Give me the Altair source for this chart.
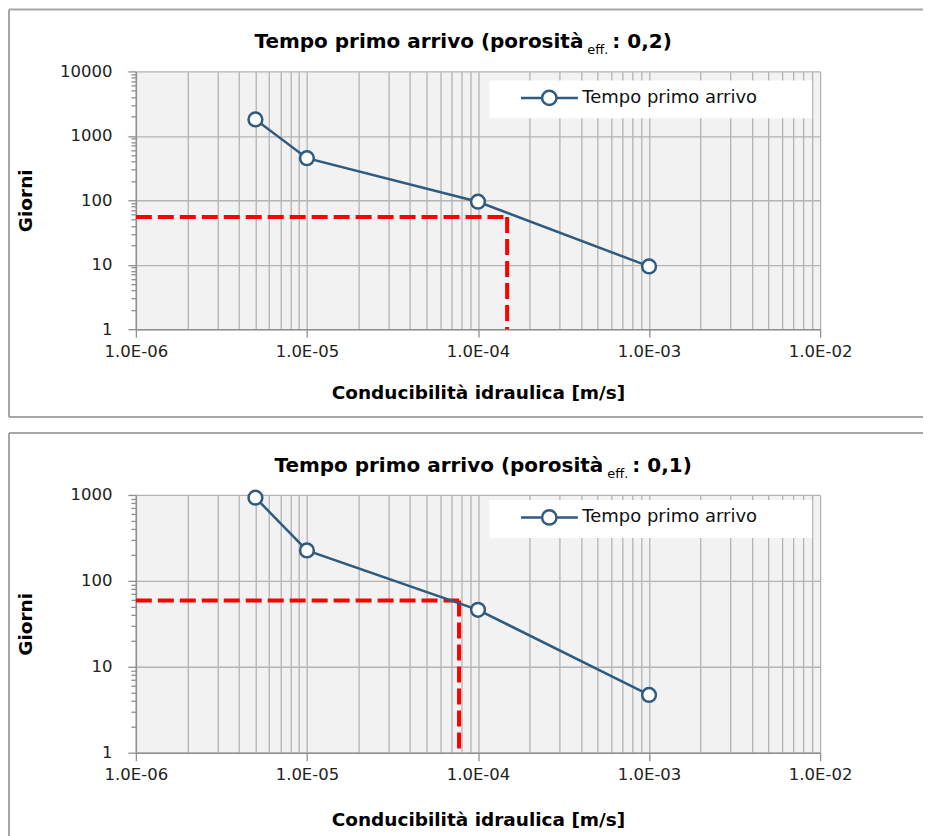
import altair as alt
import pandas as pd

# ---------------- data ----------------
conductivity = [5e-6, 1e-5, 1e-4, 1e-3]           # m/s
days_por02 = [1800, 450, 95, 9.4]                  # porosità eff. 0,2
days_por01 = [930, 226, 46, 4.7]                   # porosità eff. 0,1
threshold_k = [1.48e-4, 7.75e-5]
threshold_days = [55, 59]
k_axis_min, k_axis_max = 1e-6, 1e-2
days_axis_min = 1
days_axis_max = [10000, 1000]
series_name = "Tempo primo arrivo"
title_main = "Tempo primo arrivo (porosità"
title_sub = "eff."
title_suffix = [": 0,2)", ": 0,1)"]
x_title = "Conducibilità idraulica [m/s]"
y_title = "Giorni"

# ---------------- style ----------------
FONT = "DejaVu Sans"
LINE = "#2f5b80"
GRID = "#b3b3b3"
AXISC = "#8f8f8f"
FRAME = "#a6a6a6"
W, H = 685, 258

x_ticks = [m * 10.0 ** e for e in range(-6, -2) for m in range(1, 10)] + [k_axis_max]
DEC = "abs(log(datum.value)/LN10 - round(log(datum.value)/LN10)) < 0.001"

# legend symbol: 16px nominal symbol (8 px per unit); line + open circle drawn to the right,
# plus an empty zero-length segment that only widens the legend box
LEG_PATH = ("M1.75,0H4.4M6.22,0H8.875"
            "M6.2,0A0.9,0.9 0 1 1 4.4,0A0.9,0.9 0 1 1 6.2,0"
            "M36.5,0L36.5,0")


def y_ticks_for(ymax):
    out = []
    e = 0
    while 10 ** e < ymax:
        out += [m * 10 ** e for m in range(1, 10)]
        e += 1
    return out + [ymax]


def panel(i, days, ymax, legend_y, t_end, xtitle_y, frame_bottom):
    df = pd.DataFrame({"k": conductivity, "giorni": days, "serie": series_name})
    xs = alt.Scale(type="log", domain=[k_axis_min, k_axis_max])
    ys = alt.Scale(type="log", domain=[days_axis_min, ymax])

    xaxis = alt.Axis(
        values=x_ticks, title=x_title, grid=True, gridColor=GRID, gridWidth=1.3,
        tickColor=AXISC, tickSize=8, tickWidth=1.3,
        tickOpacity={"condition": {"test": DEC, "value": 1}, "value": 0},
        labelExpr=f"({DEC}) ? '1.0E-0' + (-round(log(datum.value)/LN10)) : ''",
        labelOverlap=False, labelFlush=False, labelBound=False, labelPadding=6,
        labelFont=FONT, labelFontSize=16.5, labelColor="#222222",
        domainColor=AXISC, domainWidth=1.5,
        titleFont=FONT, titleFontSize=18.5, titleFontWeight="bold", titleColor="#000000",
        titleY=xtitle_y, titleBaseline="middle",
    )
    yaxis = alt.Axis(
        values=y_ticks_for(ymax), title=y_title, grid=True, gridColor=GRID, gridWidth=1.3,
        gridOpacity={"condition": {"test": DEC, "value": 1}, "value": 0},
        tickColor=AXISC, tickWidth=1.3,
        tickSize={"condition": {"test": DEC, "value": 8}, "value": 5},
        labelExpr=f"({DEC}) ? format(datum.value, 'd') : ''",
        labelOverlap=False, labelBound=False, labelFlush=False, labelPadding=16,
        labelFont=FONT, labelFontSize=16.5, labelColor="#222222",
        domainColor=AXISC, domainWidth=1.5,
        titleFont=FONT, titleFontSize=18.5, titleFontWeight="bold", titleColor="#000000",
        titleX=-110, titleY=H / 2, titleAngle=270, titleAlign="center", titleBaseline="middle",
    )

    base = alt.Chart(df)
    line = base.mark_line(
        strokeWidth=2.5,
        point=alt.OverlayMarkDef(filled=False, fill="white", size=190, strokeWidth=2.5),
    ).encode(
        x=alt.X("k:Q", scale=xs, axis=xaxis),
        y=alt.Y("giorni:Q", scale=ys, axis=yaxis),
        color=alt.Color(
            "serie:N", scale=alt.Scale(range=[LINE]),
            legend=alt.Legend(
                title=None, orient="none", legendX=354, legendY=legend_y,
                fillColor="white", padding=8, symbolType=LEG_PATH, symbolSize=256,
                symbolStrokeWidth=2.5, symbolFillColor="white",
                labelFont=FONT, labelFontSize=18, labelColor="#111111", labelOffset=66,
                labelLimit=600,
            ),
        ),
    )

    ref = pd.DataFrame({"k0": [k_axis_min], "k": [threshold_k[i]],
                        "g": [threshold_days[i]], "g0": [days_axis_min]})
    rb = alt.Chart(ref)
    hline = rb.mark_rule(color="#ff0000", strokeWidth=4, strokeDash=[16, 6]).encode(
        x=alt.X("k0:Q", scale=xs), x2="k:Q", y=alt.Y("g:Q", scale=ys))
    vline = rb.mark_rule(color="#ff0000", strokeWidth=4, strokeDash=[16, 6]).encode(
        x=alt.X("k:Q", scale=xs), y=alt.Y("g:Q", scale=ys), y2="g0:Q")

    one = alt.Chart(pd.DataFrame({"d": [0]}))
    frame = [
        one.mark_rule(color=FRAME, strokeWidth=2).encode(
            x=alt.value(-127), x2=alt.value(788), y=alt.value(-62)),
        one.mark_rule(color=FRAME, strokeWidth=2).encode(
            x=alt.value(-127), y=alt.value(-62), y2=alt.value(frame_bottom)),
    ]
    if i == 0:
        frame.append(one.mark_rule(color=FRAME, strokeWidth=2).encode(
            x=alt.value(-127), x2=alt.value(788), y=alt.value(frame_bottom)))

    tdf = pd.DataFrame({"a": [title_main], "b": [title_sub], "c": [title_suffix[i]]})
    tb = alt.Chart(tdf)
    t1 = tb.mark_text(font=FONT, fontSize=20, fontWeight="bold", align="right",
                      baseline="middle", color="#000000").encode(
        text="a:N", x=alt.value(t_end), y=alt.value(-29))
    t2 = tb.mark_text(font=FONT, fontSize=13, align="left", baseline="middle",
                      color="#000000").encode(
        text="b:N", x=alt.value(t_end + 4), y=alt.value(-21))
    t3 = tb.mark_text(font=FONT, fontSize=20, fontWeight="bold", align="left",
                      baseline="middle", color="#000000").encode(
        text="c:N", x=alt.value(t_end + 29), y=alt.value(-29))

    return alt.layer(*frame, hline, vline, line, t1, t2, t3).properties(width=W, height=H)


top = panel(0, days_por02, days_axis_max[0], 9, 448, 63, 346)
bottom = panel(1, days_por01, days_axis_max[1], 5, 468, 67, 400)

chart = alt.vconcat(top, bottom, spacing=14).resolve_scale(
    color="independent"
).resolve_legend(color="independent").properties(
    padding=0, background="white"
).configure_view(stroke=None, fill="#f2f2f2")

chart.save("out.html", embed_options={"renderer": "svg", "actions": False})
